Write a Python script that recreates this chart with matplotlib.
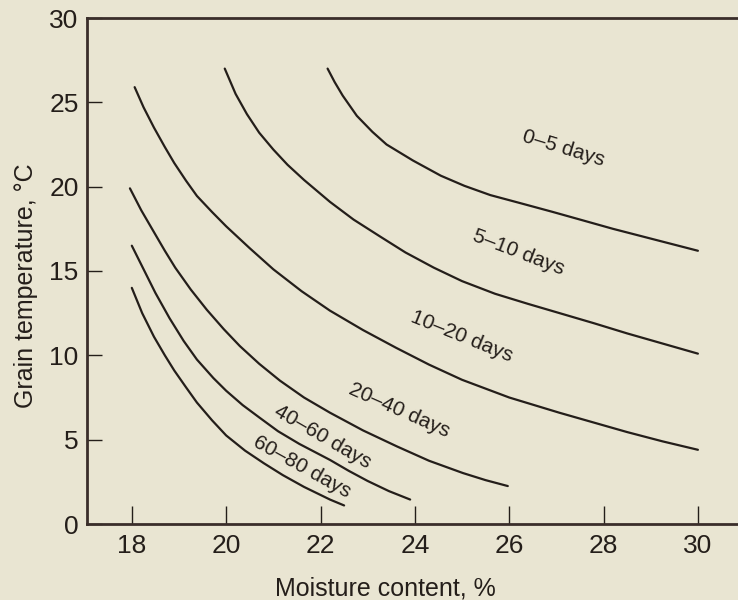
import matplotlib.pyplot as plt

plt.rcParams['font.family'] = ['Liberation Sans', 'DejaVu Sans']

# curves: moisture content (%) vs grain temperature (C)
x_0_5 = [22.15, 22.3, 22.47, 22.77, 23.1, 23.4, 23.96, 24.55, 25.05, 25.6,
         26.2, 26.9, 27.5, 28.2, 29.1, 30.0]
y_0_5 = [27.0, 26.2, 25.4, 24.2, 23.25, 22.5, 21.55, 20.65, 20.05, 19.5,
         19.05, 18.52, 18.05, 17.5, 16.85, 16.2]

x_5_10 = [19.97, 20.2, 20.44, 20.7, 21.0, 21.3, 21.65, 22.2, 22.7, 23.26,
          23.8, 24.4, 25.0, 25.7, 26.4, 27.07, 27.8, 28.5, 29.25, 30.0]
y_5_10 = [27.0, 25.5, 24.3, 23.2, 22.2, 21.3, 20.4, 19.1, 18.05, 17.05,
          16.1, 15.2, 14.4, 13.65, 13.05, 12.5, 11.9, 11.3, 10.7, 10.1]

x_10_20 = [18.06, 18.25, 18.47, 18.7, 18.9, 19.15, 19.38, 19.7, 20.0, 20.5,
           21.0, 21.6, 22.2, 22.9, 23.6, 24.3, 25.0, 26.0, 27.06, 28.5,
           29.25, 30.0]
y_10_20 = [25.9, 24.7, 23.5, 22.35, 21.4, 20.35, 19.45, 18.5, 17.65, 16.35,
           15.1, 13.8, 12.65, 11.5, 10.45, 9.45, 8.55, 7.5, 6.6, 5.45,
           4.9, 4.4]

x_20_40 = [17.96, 18.2, 18.46, 18.7, 18.92, 19.25, 19.59, 19.95, 20.29, 20.7,
           21.14, 21.65, 22.2, 22.9, 23.62, 24.3, 25.02, 25.5, 25.97]
y_20_40 = [19.9, 18.6, 17.35, 16.2, 15.2, 13.9, 12.7, 11.55, 10.55, 9.5,
           8.5, 7.5, 6.6, 5.55, 4.6, 3.75, 3.02, 2.6, 2.25]

x_40_60 = [18.0, 18.25, 18.5, 18.8, 19.1, 19.38, 19.73, 20.0, 20.35, 20.71,
           21.1, 21.55, 22.2, 22.6, 23.0, 23.45, 23.9]
y_40_60 = [16.5, 15.1, 13.7, 12.2, 10.85, 9.75, 8.65, 7.9, 7.05, 6.3,
           5.5, 4.75, 3.8, 3.15, 2.55, 1.95, 1.45]

x_60_80 = [18.0, 18.22, 18.47, 18.7, 18.9, 19.15, 19.38, 19.7, 20.0, 20.4,
           20.8, 21.2, 21.65, 22.2, 22.5]
y_60_80 = [14.0, 12.5, 11.1, 10.0, 9.1, 8.1, 7.2, 6.15, 5.25, 4.35,
           3.6, 2.9, 2.2, 1.45, 1.1]

labels = ['0\u20135 days', '5\u201310 days', '10\u201320 days',
          '20\u201340 days', '40\u201360 days', '60\u201380 days']
label_x = [27.14, 26.2, 25.0, 23.68, 22.05, 21.6]
label_y = [22.3, 16.1, 11.1, 6.76, 5.16, 3.4]
label_rot = [-17, -21, -22, -24, -30, -29]

xticks = [18, 20, 22, 24, 26, 28, 30]
yticks = [0, 5, 10, 15, 20, 25, 30]

bg = '#e9e5d2'
ink = '#241e1a'

fig = plt.figure(figsize=(7.38, 6), dpi=100, facecolor=bg)
ax = fig.add_axes([87 / 738, 76 / 600, 651 / 738, 506 / 600], facecolor=bg)

curves = [(x_0_5, y_0_5), (x_5_10, y_5_10), (x_10_20, y_10_20),
          (x_20_40, y_20_40), (x_40_60, y_40_60), (x_60_80, y_60_80)]
for xs, ys in curves:
    ax.plot(xs, ys, color=ink, lw=1.6, solid_capstyle='round',
            solid_joinstyle='round')

for txt, tx, ty, rot in zip(labels, label_x, label_y, label_rot):
    ax.text(tx, ty, txt, rotation=rot, ha='center', va='center',
            fontsize=15, color=ink, rotation_mode='anchor')

ax.set_xlim(17.05, 30.85)
ax.set_ylim(0, 30)
ax.set_xticks(xticks)
ax.set_yticks(yticks)

ax.spines['right'].set_visible(False)
for s in ['left', 'bottom', 'top']:
    ax.spines[s].set_linewidth(2.0)
    ax.spines[s].set_color('#3a2e2a')

ax.tick_params(axis='x', direction='in', length=13, width=1.0, colors=ink,
               labelsize=19, pad=7)
ax.tick_params(axis='y', direction='in', length=11, width=1.0, colors=ink,
               labelsize=19, pad=6)

ax.set_xlabel('Moisture content, %', fontsize=18, color=ink)
ax.set_ylabel('Grain temperature, \u00b0C', fontsize=18, color=ink)
ax.xaxis.set_label_coords(0.458, -0.103)
ax.yaxis.set_label_coords(-0.075, 0.47)

fig.savefig('out.png', dpi=100, facecolor=bg)
